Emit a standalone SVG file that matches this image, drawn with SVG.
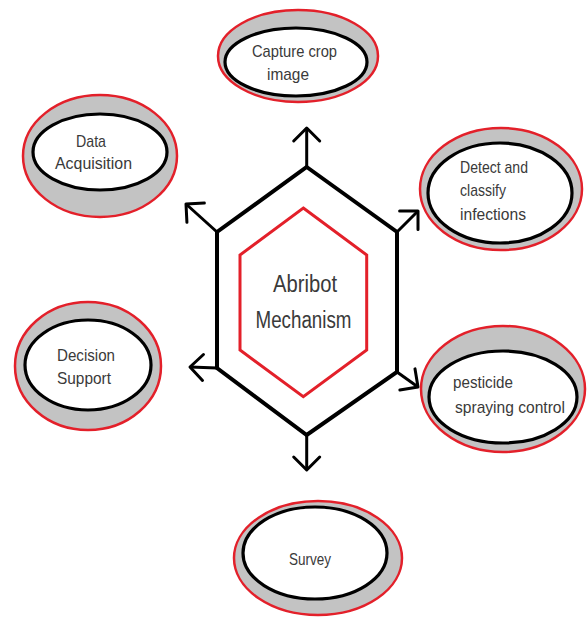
<svg xmlns="http://www.w3.org/2000/svg" width="587" height="618" viewBox="0 0 587 618">
<style>
.outer{fill:#c3c3c3;stroke:#e3202a;stroke-width:2.5}
.inner{fill:#fff;stroke:#000;stroke-width:3.2}
.t{font-family:"Liberation Sans",Arial,sans-serif;font-size:17px;fill:#3a3a3a}
.c{font-family:"Liberation Sans",Arial,sans-serif;font-size:23px;fill:#3a3a3a}
.arr{stroke:#000;stroke-width:3;fill:none;marker-end:url(#ah)}
</style>
<defs>
<marker id="ah" viewBox="-16 -16 20 32" refX="0" refY="0" markerWidth="20" markerHeight="32" markerUnits="userSpaceOnUse" orient="auto">
<path d="M-13,-13 L0,0 L-13,13" fill="none" stroke="#000" stroke-width="3" stroke-linecap="round" stroke-linejoin="round"/>
</marker>
</defs>
<rect width="587" height="618" fill="#fff"/>
<g id="center">
<polygon points="306.7,167 397,232 397,372 306.7,435 217,368 217,232" fill="#fff" stroke="#000" stroke-width="4" stroke-linejoin="miter"/>
<polygon points="303.3,208 366.7,255 366.7,350 303.3,396.7 240,350 240,255" fill="#fff" stroke="#e3202a" stroke-width="3"/>
<text class="c" x="305" y="292" text-anchor="middle" textLength="64" lengthAdjust="spacingAndGlyphs">Abribot</text>
<text class="c" x="303.5" y="328" text-anchor="middle" textLength="96" lengthAdjust="spacingAndGlyphs">Mechanism</text>
</g>
<g id="connectors">
<line class="arr" x1="306.7" y1="167" x2="306.7" y2="128"/>
<line class="arr" x1="217" y1="232" x2="186" y2="204"/>
<line class="arr" x1="397" y1="232" x2="418" y2="211"/>
<line class="arr" x1="217" y1="368" x2="190" y2="367"/>
<line class="arr" x1="397" y1="372" x2="418" y2="387"/>
<line class="arr" x1="306.7" y1="435" x2="306.7" y2="470"/>
</g>
<g id="capture">
<ellipse class="outer" cx="298" cy="56" rx="80" ry="46"/>
<ellipse class="inner" cx="296" cy="62" rx="71" ry="34"/>
<text class="t" x="252" y="57" textLength="85" lengthAdjust="spacingAndGlyphs">Capture crop</text>
<text class="t" x="267" y="80" textLength="42" lengthAdjust="spacingAndGlyphs">image</text>
</g>
<g id="data">
<ellipse class="outer" cx="100" cy="156" rx="77" ry="61"/>
<ellipse class="inner" cx="100" cy="152" rx="67" ry="38"/>
<text class="t" x="76" y="147" textLength="30" lengthAdjust="spacingAndGlyphs">Data</text>
<text class="t" x="55" y="169" textLength="77" lengthAdjust="spacingAndGlyphs">Acquisition</text>
</g>
<g id="detect">
<ellipse class="outer" cx="501" cy="189" rx="81" ry="61"/>
<ellipse class="inner" cx="500" cy="193" rx="72" ry="50"/>
<text class="t" x="460" y="173" textLength="68" lengthAdjust="spacingAndGlyphs">Detect and</text>
<text class="t" x="460" y="196" textLength="46" lengthAdjust="spacingAndGlyphs">classify</text>
<text class="t" x="460" y="220" textLength="66" lengthAdjust="spacingAndGlyphs">infections</text>
</g>
<g id="decision">
<ellipse class="outer" cx="88" cy="366" rx="73" ry="64"/>
<ellipse class="inner" cx="88" cy="365" rx="63" ry="45"/>
<text class="t" x="57" y="361" textLength="58" lengthAdjust="spacingAndGlyphs">Decision</text>
<text class="t" x="57" y="384" textLength="54" lengthAdjust="spacingAndGlyphs">Support</text>
</g>
<g id="pesticide">
<ellipse class="outer" cx="503" cy="389" rx="82" ry="63"/>
<ellipse class="inner" cx="503" cy="397" rx="74" ry="46"/>
<text class="t" x="453" y="388" textLength="60" lengthAdjust="spacingAndGlyphs">pesticide</text>
<text class="t" x="455" y="413" textLength="110" lengthAdjust="spacingAndGlyphs">spraying control</text>
</g>
<g id="survey">
<ellipse class="outer" cx="318" cy="558" rx="84" ry="57"/>
<ellipse class="inner" cx="315" cy="553" rx="72" ry="46"/>
<text class="t" x="310" y="565" text-anchor="middle" textLength="42" lengthAdjust="spacingAndGlyphs">Survey</text>
</g>
</svg>
